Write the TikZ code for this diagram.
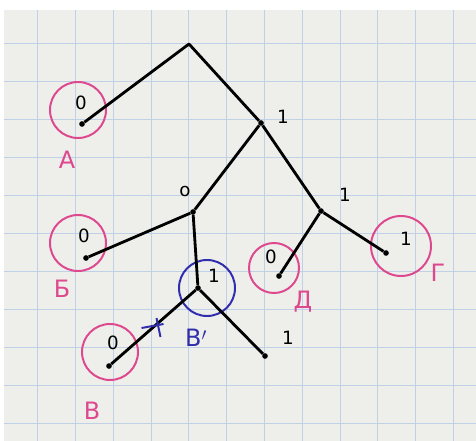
\documentclass[tikz,border=0pt]{standalone}
\usepackage{fontspec}
\setmainfont{DejaVu Sans}
\definecolor{paper}{RGB}{238,238,235}
\definecolor{gridblue}{RGB}{192,208,230}
\definecolor{markpink}{RGB}{222,72,142}
\definecolor{markblue}{RGB}{48,46,172}
\tikzset{
  vertex/.style={circle,fill=black,inner sep=0pt,minimum size=8pt},
  edge/.style={line width=4pt,line join=round},
  gridline/.style={gridblue,line width=1.2pt},
  bit/.style={font=\fontsize{26}{26}\selectfont},
  ring/.style={circle,draw=#1,line width=2.8pt,minimum size=28mm},
  letter/.style={text=markpink,font=\fontsize{34}{34}\selectfont},
}
\begin{document}
\begin{tikzpicture}[x=0.5mm,y=-0.5mm]
            \useasboundingbox (0,0) rectangle (476,441);
            \fill[white] (0,0) rectangle (476,441);
            \fill[paper] (4,10) rectangle (476,441);
            \foreach \gx in {0,...,11}
              \draw[gridline] ({37.7+37.8*\gx},10) -- ({37.7+37.8*\gx},441);
            \foreach \gy in {0,...,10}
              \draw[gridline] (4,{43+38*\gy}) -- (476,{43+38*\gy});
            % rings round the leaves
            \node[ring=markpink] (ringA) at (78,110) {};
            \node[ring=markpink] (ringB) at (78,243) {};
            \node[ring=markpink] (ringV) at (110,352) {};
            \node[ring=markpink,minimum size=25mm] (ringD) at (274,268) {};
            \node[ring=markpink,minimum size=30mm] (ringG) at (401,246) {};
            \node[ring=markblue] (ringVp) at (207,288) {};
            % tree
            \coordinate (root) at (189,44);
            \node[vertex] (one) at (261,123) {};
            \node[vertex] (zero) at (193,212) {};
            \node[vertex] (oneb) at (321,211) {};
            \node[vertex] (leafA) at (82,124) {};
            \node[vertex] (leafB) at (86,258) {};
            \node[vertex] (vprime) at (198,288) {};
            \node[vertex] (leafV) at (109,366) {};
            \node[vertex] (leafE) at (265,356) {};
            \node[vertex] (leafD) at (279,276) {};
            \node[vertex] (leafG) at (386,253) {};
            \draw[edge] (leafA) -- (root) -- (one);
            \draw[edge] (zero) -- (one) -- (oneb);
            \draw[edge] (leafB) -- (zero) -- (vprime);
            \draw[edge] (leafV) -- (vprime) -- (leafE);
            \draw[edge] (leafD) -- (oneb) -- (leafG);
            % bits
            \node[bit] (bA) at (81,103) {0};
            \node[bit] (bOne) at (283,117) {1};
            \node[bit] (bZero) at (185,192) {o};
            \node[bit] (bOneb) at (345,195) {1};
            \node[bit] (bB) at (84,236) {0};
            \node[bit] (bVp) at (214,276) {1};
            \node[bit] (bV) at (113,343) {0};
            \node[bit] (bE) at (288,338) {1};
            \node[bit] (bD) at (271,257) {0};
            \node[bit] (bG) at (406,239) {1};
            % letters
            \node[letter] (lA) at (67,160) {А};
            \node[letter] (lB) at (62,289) {Б};
            \node[letter] (lV) at (92,411) {В};
            \node[letter] (lD) at (303,302) {Д};
            \node[letter] (lG) at (438,273) {Г};
            \node[letter,text=markblue] (lVp) at (196,338) {В$'$};
            % cut mark
            \path (vprime) -- (leafV) coordinate[pos=0.5] (cut);
            \draw[markblue,line width=2.8pt] ([shift={(-12,1)}]cut) -- ([shift={(10,-3)}]cut);
            \draw[markblue,line width=2.8pt] ([shift={(3,-9)}]cut) -- ([shift={(7,10)}]cut);
        \end{tikzpicture}
\end{document}
